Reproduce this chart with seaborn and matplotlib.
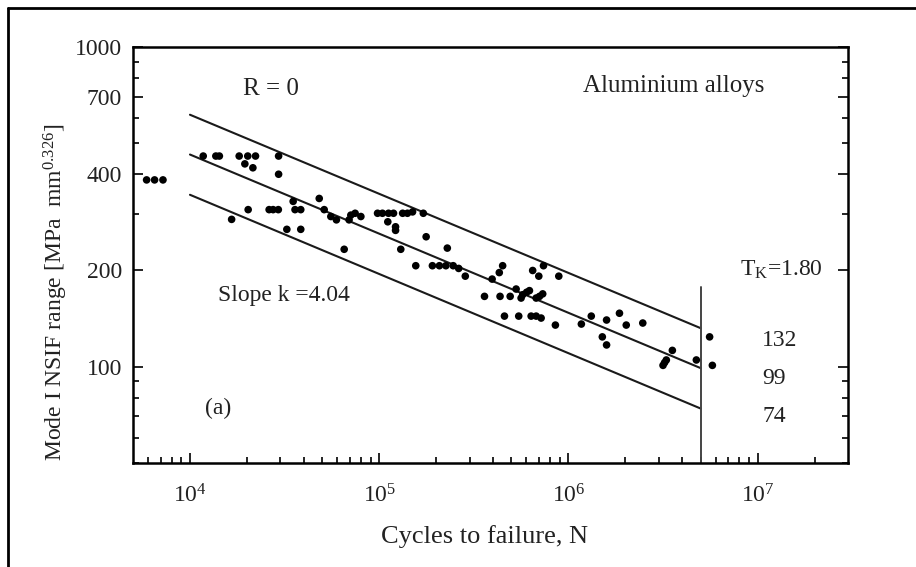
import numpy as np
import pandas as pd
import matplotlib
matplotlib.use("Agg")
import matplotlib.pyplot as plt
import seaborn as sns
from matplotlib.ticker import FixedLocator, NullFormatter, FixedFormatter
from matplotlib.lines import Line2D

# ---- data ----
cycles = [5900, 6500, 7200, 11750, 13700, 14300, 18200, 20200, 22200, 19500,
          21500, 29400, 29400, 16600, 20300, 26200, 27500, 29300, 35100, 35900,
          38500, 32500, 38500, 48200, 51200, 55500, 59400, 69300, 70800, 74600,
          80000, 98000, 104000, 112000, 119000, 133000, 141000, 150000, 171000, 111000,
          122000, 122000, 177000, 65300, 130000, 229000, 156000, 191000, 208000, 225000,
          246000, 263000, 285000, 449000, 431000, 395000, 360000, 435000, 492000, 529000,
          562000, 573000, 601000, 622000, 675000, 703000, 731000, 647000, 697000, 738000,
          889000, 459000, 546000, 635000, 675000, 717000, 853000, 1170000, 1320000, 1510000,
          1590000, 1860000, 2020000, 2470000, 1590000, 3540000, 3290000, 3220000, 3160000, 4740000,
          5570000, 5760000]
nsif = [384, 384, 384, 456, 456, 456, 456, 456, 456, 431,
        419, 456, 400, 289, 310, 310, 310, 310, 329, 310,
        310, 269, 269, 336, 310, 295, 288, 288, 298, 302,
        295, 302, 302, 302, 302, 302, 302, 305, 302, 284,
        274, 267, 255, 233, 233, 235, 207, 207, 207, 207,
        207, 203, 192, 207, 197, 188, 166, 166, 166, 175,
        164, 168, 171, 173, 164, 166, 169, 200, 192, 207,
        192, 144, 144, 144, 144, 142, 135, 136, 144, 124,
        140, 147, 135, 137, 117, 112.5, 105, 103, 101, 105,
        124, 101]

band_cycles = [1e4, 5e6]
band_upper = [614, 132]
band_mean = [461, 99]
band_lower = [345, 74]
band_labels = ["132", "99", "74"]
knee_cycles = [5e6, 5e6]
knee_range = [50, 177]

y_major = [100, 200, 400, 700, 1000]
y_major_labels = ["100", "200", "400", "700", "1000"]
y_minor = [50, 60, 70, 80, 90, 300, 500, 600, 800, 900]
x_major = [1e4, 1e5, 1e6, 1e7]
x_major_labels = ["$10^{4}$", "$10^{5}$", "$10^{6}$", "$10^{7}$"]
x_minor = [6e3, 7e3, 8e3, 9e3, 2e4, 3e4, 4e4, 5e4, 6e4, 7e4, 8e4, 9e4,
           2e5, 3e5, 4e5, 5e5, 6e5, 7e5, 8e5, 9e5,
           2e6, 3e6, 4e6, 5e6, 6e6, 7e6, 8e6, 9e6, 2e7]

# ---- style ----
sns.set_theme(style="ticks")
plt.rcParams['font.family'] = ['Liberation Serif', 'DejaVu Serif']
plt.rcParams['mathtext.fontset'] = 'custom'
plt.rcParams['mathtext.rm'] = 'Liberation Serif'
plt.rcParams['mathtext.it'] = 'Liberation Serif:italic'
plt.rcParams['mathtext.bf'] = 'Liberation Serif:bold'

W, H = 916, 567
fig = plt.figure(figsize=(W / 100, H / 100), dpi=100)
fig.patch.set_facecolor("white")
ax = fig.add_axes([133 / W, 1 - 463 / H, 715 / W, 416 / H])
ax.set_facecolor("white")
ax.set_xscale("log")
ax.set_yscale("log")

df = pd.DataFrame({"N": cycles, "S": nsif})
sns.scatterplot(data=df, x="N", y="S", ax=ax, color="black", s=30,
                edgecolor="none", linewidth=0, zorder=3, legend=False)

for vals in (band_upper, band_mean, band_lower):
    sns.lineplot(x=band_cycles, y=vals, ax=ax, color="#1a1a1a", lw=1.5,
                 estimator=None, legend=False)
sns.lineplot(x=knee_cycles, y=knee_range, ax=ax, color="#444444", lw=1.4,
             estimator=None, legend=False, sort=False)

ax.set_xlim(5e3, 3e7)
ax.set_ylim(50, 1000)

ax.xaxis.set_major_locator(FixedLocator(x_major))
ax.xaxis.set_major_formatter(FixedFormatter(x_major_labels))
ax.xaxis.set_minor_locator(FixedLocator(x_minor))
ax.xaxis.set_minor_formatter(NullFormatter())
ax.yaxis.set_major_locator(FixedLocator(y_major))
ax.yaxis.set_major_formatter(FixedFormatter(y_major_labels))
ax.yaxis.set_minor_locator(FixedLocator(y_minor))
ax.yaxis.set_minor_formatter(NullFormatter())

ax.tick_params(which="both", direction="in", right=True, top=False,
               color="black", width=1.2, labelsize=17, labelcolor="#222222")
ax.tick_params(which="major", length=7)
ax.tick_params(which="minor", length=4)
ax.tick_params(axis="x", which="major", pad=15)
ax.tick_params(axis="y", which="major", pad=8)

for sp in ax.spines.values():
    sp.set_linewidth(1.8)
    sp.set_color("black")

ax.set_xlabel("Cycles to failure, N", fontsize=19, color="#222222")
ax.xaxis.set_label_coords((485 - 133) / 715, (463 - 537) / 416)
ax.xaxis.label.set_va("center")
ax.set_ylabel("Mode I NSIF range [MPa  mm$^{0.326}$]", fontsize=17, color="#222222")
ax.yaxis.set_label_coords((56 - 133) / 715, (463 - 292) / 416)
ax.yaxis.label.set_va("center")

def ftext(x, y, s, size=17, ha="left"):
    fig.text(x / W, 1 - y / H, s, fontsize=size, ha=ha, va="center", color="#222222")

ftext(243, 89, "R = 0", size=18)
ftext(583, 86, "Aluminium alloys", size=18)
ftext(218, 296, "Slope k =4.04")
ftext(205, 408, "(a)")
ftext(740, 270, "T$_\\mathrm{K}$=1.80")
ftext(762, 341, band_labels[0])
ftext(762, 379, band_labels[1])
ftext(762, 417, band_labels[2])

# outer frame (top and left edges of the cropped figure border)
fig.add_artist(Line2D([8 / W, 1], [1 - 8 / H, 1 - 8 / H], transform=fig.transFigure,
                      color="black", lw=2))
fig.add_artist(Line2D([8 / W, 8 / W], [0, 1 - 8 / H], transform=fig.transFigure,
                      color="black", lw=2))

fig.savefig("out.png", dpi=100, facecolor="white")
